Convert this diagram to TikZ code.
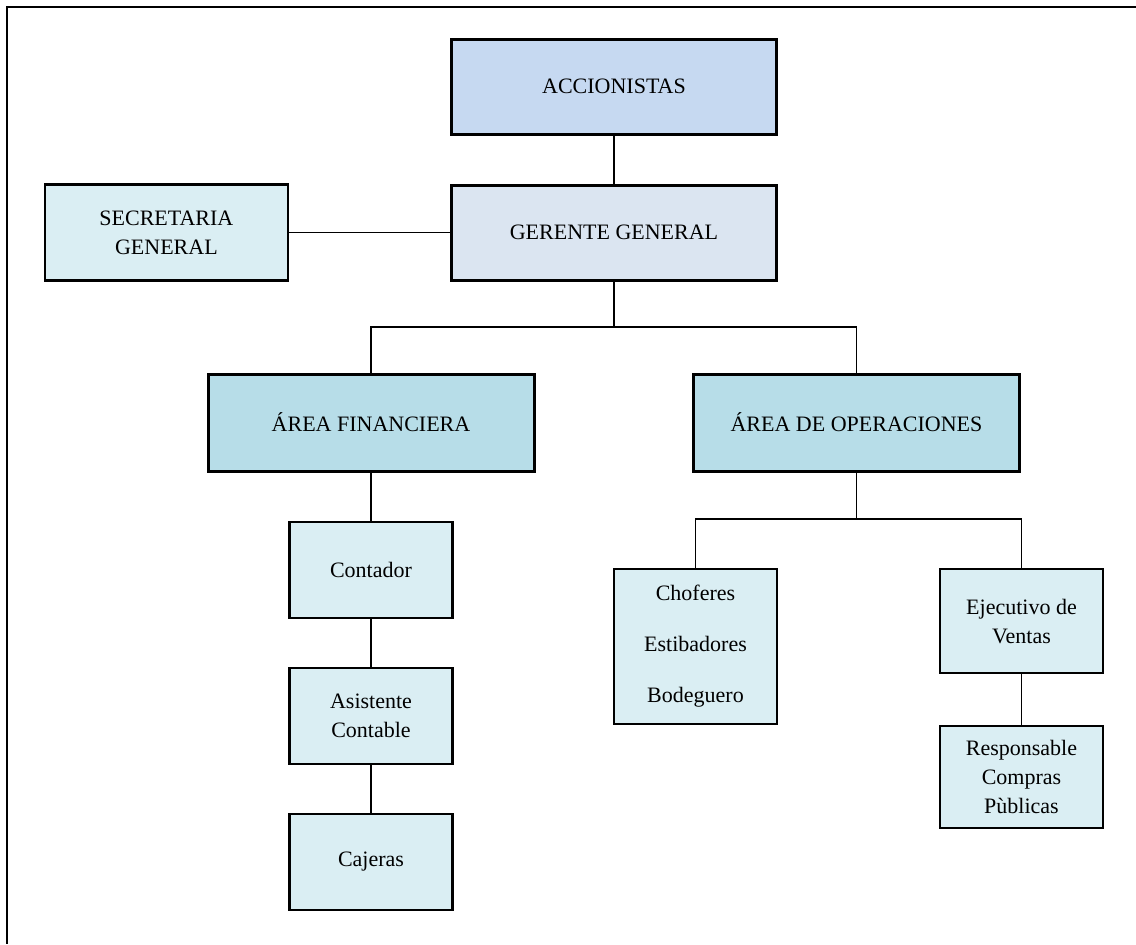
\documentclass[tikz,border=0pt]{standalone}
\usepackage{fontspec}
\setmainfont{Liberation Serif}
\usetikzlibrary{positioning}
\definecolor{accblue}{HTML}{C6D9F1}
\definecolor{gerblue}{HTML}{DBE5F1}
\definecolor{areablue}{HTML}{B7DDE8}
\definecolor{paleblue}{HTML}{DAEEF3}

\begin{document}
\begin{tikzpicture}[x=0.5pt,y=-0.5pt,node distance=24pt,
  box/.style={draw,rectangle,align=center,inner sep=2pt,font=\fontsize{11}{14.5}\selectfont},
  headbox/.style={box,line width=1.5pt,minimum width=162.5pt,minimum height=47.5pt},
  areabox/.style={box,line width=1.5pt,fill=areablue,minimum width=163pt,minimum height=48.5pt},
  staffbox/.style={box,line width=1.1pt,fill=paleblue,minimum width=81.5pt,minimum height=48pt},
  orgline/.style={line width=0.85pt}]
  \useasboundingbox (0,0) rectangle (1136,944);
  \draw[line width=1.3pt] (1136,7) -- (7,7) -- (7,944);
  \node[headbox,fill=accblue] (acc) at (614,86.5) {ACCIONISTAS};
  \node[headbox,fill=gerblue] (ger) [below=of acc] {GERENTE GENERAL};
  \node[staffbox,minimum width=121.5pt] (sec) [left=80.5pt of ger] {SECRETARIA\\GENERAL};
  \node[areabox] (fin) at (371,422.5) {ÁREA FINANCIERA};
  \node[areabox] (ope) at (856.5,422.5) {ÁREA DE OPERACIONES};
  \node[staffbox] (con) [below=of fin] {Contador};
  \node[staffbox] (asi) [below=of con] {Asistente\\Contable};
  \node[staffbox] (caj) [below=of asi] {Cajeras};
  \node[staffbox,anchor=north,minimum height=77.5pt] (cho) at (695.5,568) {Choferes\\[11pt]Estibadores\\[11pt]Bodeguero};
  \node[staffbox,anchor=north,minimum height=52pt] (eje) at (1021.5,568) {Ejecutivo de\\Ventas};
  \node[staffbox,minimum height=51pt] (res) [below=25.5pt of eje] {Responsable\\Compras\\Pùblicas};
  \coordinate (gbus) at (614,327);
  \coordinate (obus) at (856.5,519);
  \draw[orgline] (acc) -- (ger);
  \draw[orgline] (sec) -- (ger);
  \draw[orgline] (ger) -- (gbus);
  \draw[orgline] (fin.north) |- (gbus) -| (ope.north);
  \draw[orgline] (fin) -- (con);
  \draw[orgline] (con) -- (asi);
  \draw[orgline] (asi) -- (caj);
  \draw[orgline] (ope) -- (obus);
  \draw[orgline] (cho.north) |- (obus) -| (eje.north);
  \draw[orgline] (eje) -- (res);
\end{tikzpicture}
\end{document}
